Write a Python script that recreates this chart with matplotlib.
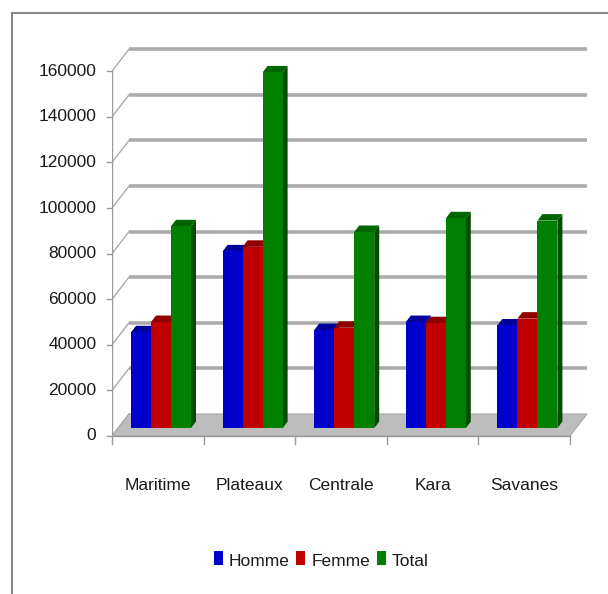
import matplotlib.pyplot as plt
from matplotlib.patches import Polygon, Rectangle
from matplotlib.lines import Line2D
import numpy as np

plt.rcParams['font.family'] = ['Liberation Sans Narrow', 'Liberation Sans', 'DejaVu Sans']

regions = ['Maritime', 'Plateaux', 'Centrale', 'Kara', 'Savanes']
homme = [42000, 77500, 43000, 46500, 45000]
femme = [46500, 79500, 44000, 46000, 48000]
total = [88500, 156000, 86000, 92000, 91000]
series = ['Homme', 'Femme', 'Total']
yticks = [0, 20000, 40000, 60000, 80000, 100000, 120000, 140000, 160000]

# couleurs: face avant, dessus, cote
colors = {'Homme': ('#0000cc', '#00009a', '#000080'),
          'Femme': ('#c00000', '#900000', '#700000'),
          'Total': ('#008000', '#006400', '#004d00')}

W, H = 608, 594
fig = plt.figure(figsize=(W / 100, H / 100), dpi=100)

# axes en pixels: x=0 au pixel 112, 1 categorie = 91.6 px ; y=0 au pixel 436, 1000 = 2.28 px
left_px, right_px, top_px, bot_px = 112, 600, 40, 445
ax = fig.add_axes([left_px / W, 1 - bot_px / H, (right_px - left_px) / W, (bot_px - top_px) / H])
ax.set_xlim(0, (right_px - left_px) / 91.6)
ax.set_ylim(-(bot_px - 436) / 2.28 * 1000, (436 - top_px) / 2.28 * 1000)
ax.axis('off')

DX = 17 / 91.6
DY = 22 / 2.28 * 1000
ncat = len(regions)

# sol
floor = Polygon([(0, 0), (ncat, 0), (ncat + DX, DY), (DX, DY)], closed=True,
                facecolor='#bdbdbd', edgecolor='#a8a8a8', lw=0.8, zorder=1)
ax.add_patch(floor)

# grille du fond
for v in yticks[1:]:
    ax.plot([DX, ncat + DX], [v + DY, v + DY], color='#ababab', lw=2.6, zorder=0.5,
            solid_capstyle='butt')
for v in yticks:
    ax.plot([0, DX], [v, v + DY], color='#ababab', lw=1.0, zorder=0.6)

# axe vertical
ax.plot([0, 0], [0, 160000], color='#9a9a9a', lw=1.0, zorder=2)
for v in yticks:
    ax.plot([-0.055, 0], [v, v], color='#9a9a9a', lw=1.0, zorder=2, clip_on=False)
    ax.text(-0.17, v, str(v), ha='right', va='center', fontsize=12.5, color='#1a1a1a',
            clip_on=False)

# axe horizontal
ax.plot([0, ncat], [0, 0], color='#9a9a9a', lw=1.0, zorder=2)
for i in range(ncat + 1):
    ax.plot([i, i], [0, -3500], color='#9a9a9a', lw=1.0, zorder=2, clip_on=False)

# barres 3D
bw = 20 / 91.6
f_base = 0.36
bx, by = DX * f_base, DY * f_base
dbx, dby = 5 / 91.6, 6.5 / 2.28 * 1000
start = (131 - 112) / 91.6 - bx
data = {'Homme': homme, 'Femme': femme, 'Total': total}
for i in range(ncat):
    for j, s in enumerate(series):
        v = data[s][i]
        fc, tc, sc = colors[s]
        x = i + start + j * bw + bx
        y0 = by
        y1 = by + v
        side = Polygon([(x + bw, y0), (x + bw, y1), (x + bw + dbx, y1 + dby), (x + bw + dbx, y0 + dby)],
                       closed=True, facecolor=sc, edgecolor='none', zorder=3 + j)
        top = Polygon([(x, y1), (x + bw, y1), (x + bw + dbx, y1 + dby), (x + dbx, y1 + dby)],
                      closed=True, facecolor=tc, edgecolor='none', zorder=3 + j)
        front = Rectangle((x, y0), bw, v, facecolor=fc, edgecolor='none', zorder=3 + j)
        ax.add_patch(side)
        ax.add_patch(top)
        ax.add_patch(front)

# etiquettes des categories
for i, r in enumerate(regions):
    ax.text(i + 0.5, -(485 - 436) / 2.28 * 1000, r, ha='center', va='center', fontsize=12.5,
            color='#1a1a1a', clip_on=False)

# legende
leg_y = 1 - 562 / H
items = [(214, 229, 'Homme'), (296, 312, 'Femme'), (377, 392, 'Total')]
for sq, tx, s in items:
    fig.patches.append(Rectangle((sq / W, 1 - 565 / H), 9 / W, 14 / H, transform=fig.transFigure,
                                 facecolor=colors[s][0], edgecolor='none'))
    fig.text(tx / W, leg_y, s, ha='left', va='center', fontsize=12.5, color='#1a1a1a')

# cadre
fig.add_artist(Line2D([12 / W, 1.0], [1 - 13 / H, 1 - 13 / H], transform=fig.transFigure,
                      color='#888888', lw=1.5))
fig.add_artist(Line2D([12 / W, 12 / W], [1 - 13 / H, 0], transform=fig.transFigure,
                      color='#888888', lw=1.5))

fig.savefig('out.png', dpi=100)
